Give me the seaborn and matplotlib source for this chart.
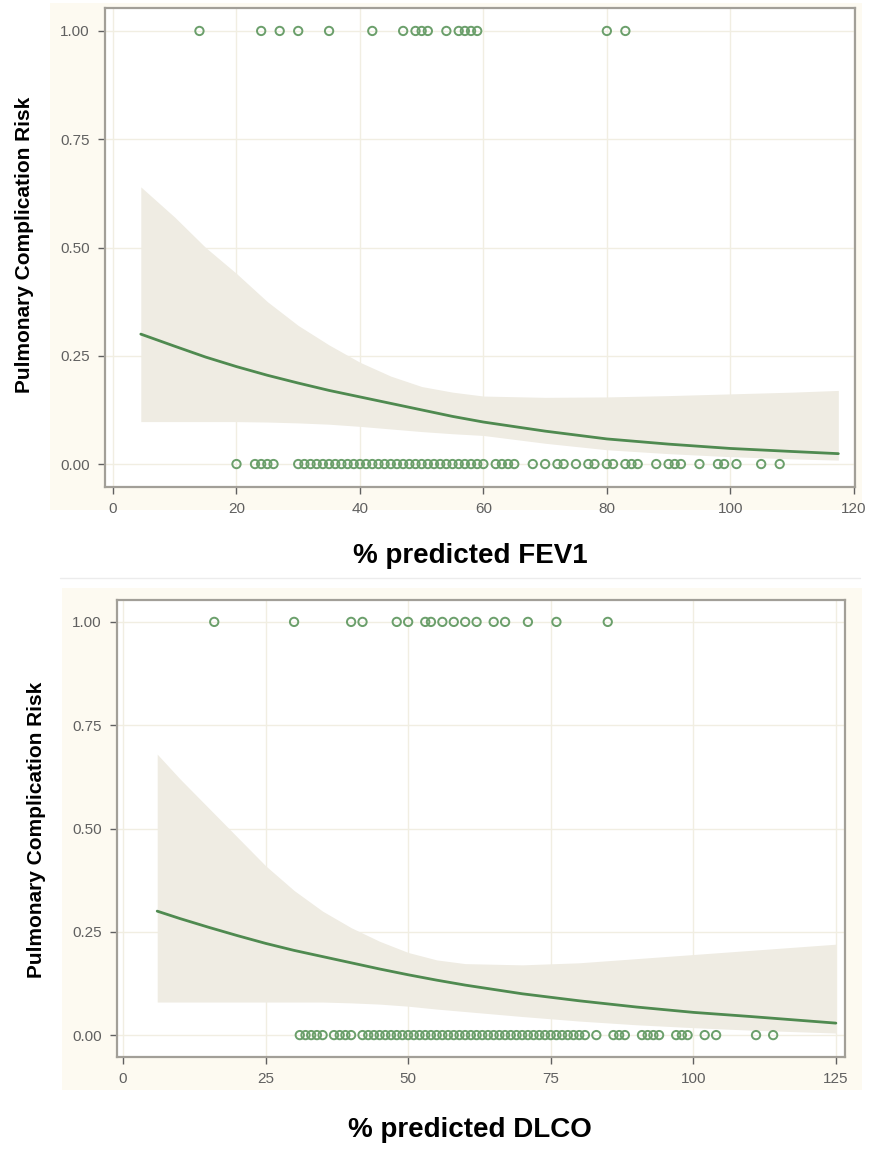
import numpy as np
import pandas as pd
import matplotlib
matplotlib.use("Agg")
import matplotlib.pyplot as plt
from matplotlib.patches import Rectangle
from matplotlib.lines import Line2D
import seaborn as sns

# ---------------- data ----------------
fev1_events = [14, 24, 27, 30, 35, 42, 47, 49, 50, 51, 54, 56, 57, 58, 59, 80, 83]
fev1_no_events = [20, 23, 24, 25, 26, 30, 31, 32, 33, 34, 35,
                  36, 37, 38, 39, 40, 41, 42, 43, 44, 45, 46, 47, 48, 49, 50,
                  51, 52, 53, 54, 55, 56, 57, 58, 59, 60,
                  62, 63, 64, 65, 68, 70, 72, 73, 75, 77, 78, 80, 81, 83, 84, 85,
                  88, 90, 91, 92, 95, 98, 99, 101, 105, 108]
fev1_curve_x = [4.5, 10, 15, 20, 25, 30, 35, 40, 45, 50, 55, 60, 70, 80, 90, 100, 110, 117.5]
fev1_fit = [0.30, 0.272, 0.247, 0.225, 0.205, 0.187, 0.17, 0.155, 0.14, 0.125, 0.11, 0.097,
            0.076, 0.058, 0.046, 0.036, 0.029, 0.024]
fev1_upper = [0.64, 0.57, 0.50, 0.44, 0.375, 0.32, 0.275, 0.235, 0.203, 0.179, 0.166, 0.157,
              0.154, 0.155, 0.158, 0.162, 0.166, 0.17]
fev1_lower = [0.098, 0.098, 0.098, 0.098, 0.097, 0.095, 0.092, 0.087, 0.081, 0.075, 0.07, 0.066,
              0.048, 0.033, 0.024, 0.017, 0.012, 0.009]

dlco_events = [16, 30, 40, 42, 48, 50, 53, 54, 56, 58, 60, 62, 65, 67, 71, 76, 85]
dlco_no_events = [31, 32, 33, 34, 35, 37, 38, 39, 40,
                  42, 43, 44, 45, 46, 47, 48, 49, 50, 51, 52, 53, 54, 55, 56, 57, 58, 59, 60,
                  61, 62, 63, 64, 65, 66, 67, 68, 69, 70, 71, 72, 73, 74, 75, 76, 77, 78, 79, 80,
                  81, 83, 86, 87, 88, 91, 92, 93, 94, 97, 98, 99, 102, 104, 111, 114]
dlco_curve_x = [6, 10, 15, 20, 25, 30, 35, 40, 45, 50, 55, 60, 70, 80, 90, 100, 110, 125]
dlco_fit = [0.30, 0.282, 0.261, 0.241, 0.222, 0.205, 0.19, 0.175, 0.16, 0.146, 0.133, 0.121,
            0.10, 0.083, 0.068, 0.055, 0.045, 0.029]
dlco_upper = [0.68, 0.62, 0.55, 0.48, 0.41, 0.35, 0.30, 0.26, 0.227, 0.20, 0.182, 0.173,
              0.17, 0.175, 0.185, 0.195, 0.205, 0.22]
dlco_lower = [0.08, 0.08, 0.08, 0.08, 0.08, 0.08, 0.08, 0.078, 0.075, 0.07, 0.063, 0.057,
              0.045, 0.034, 0.025, 0.018, 0.012, 0.005]

fev1_xticks = [0, 20, 40, 60, 80, 100, 120]
dlco_xticks = [0, 25, 50, 75, 100, 125]
y_ticks = [0.00, 0.25, 0.50, 0.75, 1.00]
y_ticklabels = ["0.00", "0.25", "0.50", "0.75", "1.00"]
y_label = "Pulmonary Complication Risk"
fev1_label = "% predicted FEV1"
dlco_label = "% predicted DLCO"

# ---------------- style ----------------
sns.set_style("white")
FONT = ["Liberation Sans", "DejaVu Sans"]
plt.rcParams["font.family"] = FONT

W, H = 870, 1152
fig = plt.figure(figsize=(W / 100, H / 100), dpi=100)

CREAM = "#fdfaf1"
BAND = "#efece3"
LINE = "#4f8a50"
MARK = "#6b9f6b"
FRAME = "#a29f98"
GRID = "#f1eee2"
TICKC = "#606060"


def px_rect(x0, y0, x1, y1):
    return (x0 / W, 1 - y1 / H, (x1 - x0) / W, (y1 - y0) / H)


# cream panel backgrounds (behind the axes)
for (x0, y0, x1, y1) in [(50, 3, 862, 510), (62, 588, 862, 1090)]:
    l, b, w, h = px_rect(x0, y0, x1, y1)
    fig.patches.append(Rectangle((l, b), w, h, transform=fig.transFigure,
                                 facecolor=CREAM, edgecolor="none", zorder=-5))
# faint separator line
fig.lines.append(Line2D([60 / W, 860 / W], [1 - 578 / H, 1 - 578 / H],
                        transform=fig.transFigure, color="#ececec", lw=1, zorder=-5))

ax1 = fig.add_axes(px_rect(105, 8, 855, 487))
ax2 = fig.add_axes(px_rect(117, 600, 845, 1057))


def draw(ax, events, no_events, cx, fit, lo, hi, xticks, xlim):
    ax.set_facecolor("white")
    ax.fill_between(cx, lo, hi, color=BAND, linewidth=0, zorder=1)
    sns.lineplot(x=cx, y=fit, ax=ax, color=LINE, linewidth=2.0, zorder=3)
    pts = pd.DataFrame({
        "x": list(events) + list(no_events),
        "y": [1.0] * len(events) + [0.0] * len(no_events),
    })
    sns.scatterplot(data=pts, x="x", y="y", ax=ax, marker="o", s=36,
                    facecolors="none", edgecolor=MARK, linewidth=1.4, zorder=4)
    ax.set_xlim(*xlim)
    ax.set_ylim(-0.053, 1.053)
    ax.set_xticks(xticks)
    ax.set_yticks(y_ticks)
    ax.set_yticklabels(y_ticklabels)
    ax.grid(True, color=GRID, linewidth=1.0, zorder=0)
    ax.set_axisbelow(True)
    for sp in ax.spines.values():
        sp.set_color(FRAME)
        sp.set_linewidth(1.6)
    ax.tick_params(axis="both", direction="out", length=5, width=1, color=TICKC,
                   labelcolor=TICKC, labelsize=11, left=True, bottom=True, pad=6)
    ax.set_xlabel("")
    ax.set_ylabel("")


draw(ax1, fev1_events, fev1_no_events, fev1_curve_x, fev1_fit, fev1_lower, fev1_upper,
     fev1_xticks, (-1.3, 120.2))
draw(ax2, dlco_events, dlco_no_events, dlco_curve_x, dlco_fit, dlco_lower, dlco_upper,
     dlco_xticks, (-1.05, 126.6))

# axis titles placed as in the reference
fig.text(25 / W, 1 - 245 / H, y_label, rotation=90, ha="center", va="center",
         fontsize=15, fontweight="bold", color="black", family=FONT)
fig.text(37 / W, 1 - 830 / H, y_label, rotation=90, ha="center", va="center",
         fontsize=15, fontweight="bold", color="black", family=FONT)
fig.text(470 / W, 1 - 556 / H, fev1_label, ha="center", va="center",
         fontsize=20, fontweight="bold", color="black", family=FONT)
fig.text(470 / W, 1 - 1130 / H, dlco_label, ha="center", va="center",
         fontsize=20, fontweight="bold", color="black", family=FONT)

fig.savefig("out.png", dpi=100, facecolor="white")
